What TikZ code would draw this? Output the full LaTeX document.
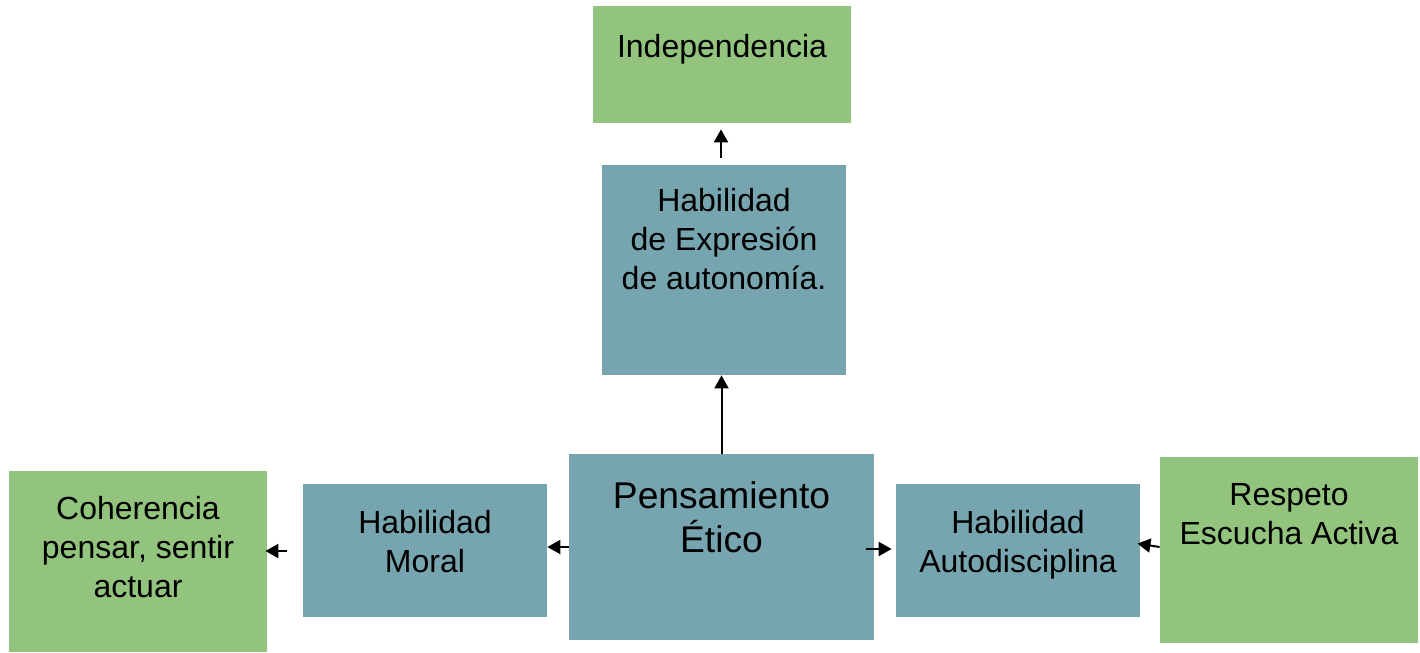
\documentclass[tikz,border=0pt]{standalone}
\usepackage{fontspec}
\setmainfont{Liberation Sans}
\usetikzlibrary{arrows.meta}
\definecolor{leafgreen}{RGB}{147,196,125}
\definecolor{slateteal}{RGB}{118,165,175}
\tikzset{
  greenbox/.style={fill=leafgreen,inner sep=0pt},
  tealbox/.style={fill=slateteal,inner sep=0pt},
  boxtext/.style={anchor=base,align=center,inner sep=0pt,
    font=\fontsize{16}{19.5}\selectfont},
  bigtext/.style={boxtext,font=\fontsize{18.6}{22}\selectfont},
  arr/.style={-{Triangle[length=6.5pt,width=7pt]},line width=1pt}
}
\newcommand{\bigbox}[5]{\node[#1,minimum width=#4,minimum height=#5] (#2) at (#3) {};}

\begin{document}
\begin{tikzpicture}[x=0.5pt,y=-0.5pt]
        \useasboundingbox (0,0) rectangle (1420,653);
        % boxes
        \bigbox{greenbox}{indep}{722,64.5}{129pt}{58.5pt}
        \bigbox{tealbox}{expr}{724,270}{122pt}{105pt}
        \bigbox{tealbox}{pens}{721.5,547}{152.5pt}{93pt}
        \bigbox{tealbox}{moral}{425,550.5}{122pt}{66.5pt}
        \bigbox{tealbox}{autod}{1018,550.5}{122pt}{66.5pt}
        \bigbox{greenbox}{coher}{138,561.5}{129pt}{90.5pt}
        \bigbox{greenbox}{resp}{1289,550}{129pt}{93pt}
        % texts (base = last line)
        \node[boxtext] (indeptxt) at (722,57) {Independencia};
        \node[boxtext] (exprtxt) at (724,289) {Habilidad\\de Expresión\\de autonomía.};
        \node[bigtext] (penstxt) at (721.5,552) {Pensamiento\\Ético};
        \node[boxtext] (moraltxt) at (425,572) {Habilidad\\Moral};
        \node[boxtext] (autodtxt) at (1018,572) {Habilidad\\Autodisciplina};
        \node[boxtext] (cohertxt) at (138,597) {Coherencia\\pensar, sentir\\actuar};
        \node[boxtext] (resptxt) at (1289,544) {Respeto\\Escucha Activa};
        % arrows
        \draw[arr] (pens.north) -- (pens.north |- expr.south);
        \draw[arr,shorten <=3.5pt,shorten >=3pt] (expr.north -| 721,0) -- (indep.south -| 721,0);
        \draw[arr] (pens.west) -- (pens.west -| moral.east);
        \draw[arr,shorten <=8pt,shorten >=-1pt] (moral.west |- 0,551) -- (coher.east |- 0,551);
        \draw[arr,shorten <=-4pt,shorten >=2pt] (pens.east |- 0,549) -- (autod.west |- 0,549);
        \draw[arr,shorten >=-1.5pt] (resp.west |- 0,547) -- (autod.east |- 0,544);
      \end{tikzpicture}
\end{document}
